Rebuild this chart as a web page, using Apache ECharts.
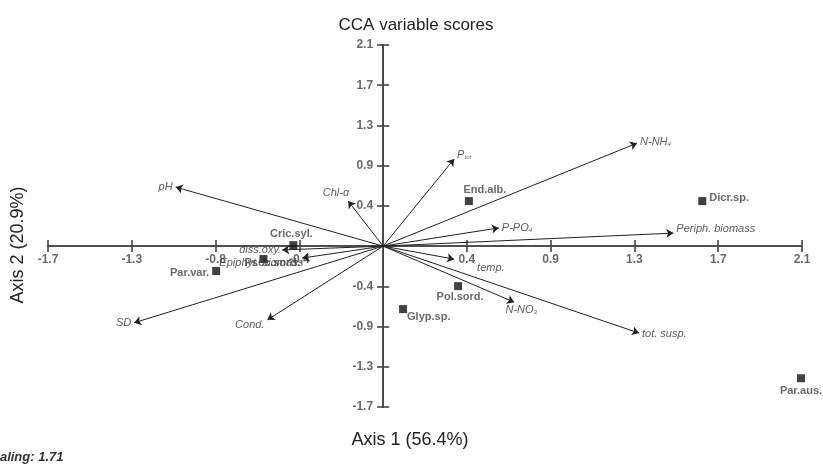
<!DOCTYPE html>
<html>
<head>
<meta charset="utf-8">
<script src="https://cdn.jsdelivr.net/npm/echarts@6/dist/echarts.min.js"></script>
<style>
html,body{margin:0;padding:0;background:#fff;}
#chart{width:823px;height:469px;}
</style>
</head>
<body>
<div id="chart"></div>
<script>
// ---- data ----
var axisMin = -1.68, axisMax = 2.1, axisStep = 0.42;
var xTickLabels = ['-1.7','-1.3','-0.8','-0.4','','0.4','0.9','1.3','1.7','2.1'];
var yTickLabels = ['-1.7','-1.3','-0.9','-0.4','','0.4','0.9','1.3','1.7','2.1'];

var envNames  = ['pH','Chl-α','Ptot','N-NH4','P-PO4','Periph. biomass','temp.','N-NO3','tot. susp.','Cond.','SD','diss.oxy.','Epiphyt. biomass'];
var envLabels = ['pH','Chl-α','P{sub|tot}','N-NH{sub|4}','P-PO{sub|4}','Periph. biomass','temp.','N-NO{sub|3}','tot. susp.','Cond.','SD','diss.oxy.','Epiphyt. biomass'];
var envX = [-1.04, -0.175, 0.356, 1.273, 0.58, 1.455, 0.356, 0.657, 1.283, -0.58, -1.248, -0.506, -0.406];
var envY = [0.616, 0.47, 0.91, 1.075, 0.19, 0.136, -0.136, -0.585, -0.908, -0.77, -0.80, -0.04, -0.125];

var spNames = ['Cric.syl.','Psec.sord.','Par.var.','End.alb.','Dicr.sp.','Pol.sord.','Glyp.sp.','Par.aus.'];
var spX = [-0.45, -0.6, -0.837, 0.43, 1.6, 0.376, 0.1, 2.095];
var spY = [0.01, -0.135, -0.26, 0.47, 0.47, -0.418, -0.658, -1.38];

// ---- label placement (style) ----
var envLabelPos = {
  'pH': {position:'left', offset:[0,0]},
  'Chl-α': {position:'left', offset:[4,-8]},
  'Ptot': {position:'right', offset:[0,-4]},
  'N-NH4': {position:'right', offset:[0,-1]},
  'P-PO4': {position:'right', offset:[0,0]},
  'Periph. biomass': {position:'right', offset:[0,-4]},
  'temp.': {position:'right', offset:[20,9]},
  'N-NO3': {position:'bottom', offset:[7,-1]},
  'tot. susp.': {position:'right', offset:[0,1]},
  'Cond.': {position:'left', offset:[0,5]},
  'SD': {position:'left', offset:[0,0]},
  'diss.oxy.': {position:'left', offset:[2,0]},
  'Epiphyt. biomass': {position:'left', offset:[4,5]}
};
var spLabelPos = {
  'Cric.syl.': {position:'top', offset:[-2,1]},
  'Psec.sord.': {position:'right', offset:[-26,4]},
  'Par.var.': {position:'left', offset:[0,2]},
  'End.alb.': {position:'top', offset:[16,1]},
  'Dicr.sp.': {position:'right', offset:[0,-3]},
  'Pol.sord.': {position:'bottom', offset:[2,-2]},
  'Glyp.sp.': {position:'right', offset:[-3,8]},
  'Par.aus.': {position:'bottom', offset:[0,0]}
};

var arrowData = envNames.map(function(n,i){
  return {coords:[[0,0],[envX[i],envY[i]]]};
});
var envPoints = envNames.map(function(n,i){
  var p = envLabelPos[n];
  return {value:[envX[i],envY[i]], label:{position:p.position, offset:p.offset, formatter:envLabels[i]}};
});
var spPoints = spNames.map(function(n,i){
  var p = spLabelPos[n];
  return {value:[spX[i],spY[i]], name:n, label:{position:p.position, offset:p.offset}};
});
var xTickPoints = [], yTickPoints = [];
xTickLabels.forEach(function(t,i){
  if (t) xTickPoints.push({value:[+(axisMin + i*axisStep).toFixed(2), 0], name:t});
});
yTickLabels.forEach(function(t,i){
  if (t) yTickPoints.push({value:[0, +(axisMin + i*axisStep).toFixed(2)], name:t});
});

var FONT = '"Liberation Sans", Arial, sans-serif';
var axisLineStyle = {color:'#444', width:1.6};

function makeX(isMain){
  return {
    type:'value', min:axisMin, max:axisMax, interval:axisStep,
    position:'bottom',
    axisLine:{show:true, onZero:true, lineStyle:axisLineStyle},
    axisTick:{show:true, inside:!isMain, length:6, lineStyle:axisLineStyle},
    axisLabel:{show:false},
    splitLine:{show:false}
  };
}
function makeY(isMain){
  return {
    type:'value', min:axisMin, max:axisMax, interval:axisStep,
    position:'left',
    axisLine:{show:true, onZero:true, lineStyle:axisLineStyle},
    axisTick:{show:true, inside:!isMain, length:6, lineStyle:axisLineStyle},
    axisLabel:{show:false},
    splitLine:{show:false}
  };
}

var tickLabelStyle = {show:true, formatter:'{b}', fontSize:12, fontWeight:'bold', color:'#444', fontFamily:FONT};

var chart = echarts.init(document.getElementById('chart'), null, {renderer:'canvas'});
chart.setOption({
  animation:false,
  backgroundColor:'#fff',
  title:{text:'CCA variable scores', left:411, top:12, textAlign:'center',
    textStyle:{fontSize:17, fontWeight:'normal', color:'#222', fontFamily:FONT}},
  grid:{left:48, right:21, top:45, bottom:62, containLabel:false},
  xAxis:[makeX(true), makeX(false)],
  yAxis:[makeY(true), makeY(false)],
  graphic:[
    {type:'text', x:410, y:440, style:{text:'Axis 1 (56.4%)', fontSize:18, fill:'#222', fontFamily:FONT, align:'center', verticalAlign:'middle'}},
    {type:'text', x:18, y:245, rotation:Math.PI/2, style:{text:'Axis 2 (20.9%)', fontSize:18, fill:'#222', fontFamily:FONT, align:'center', verticalAlign:'middle'}},
    {type:'text', x:-16, y:457, style:{text:'Scaling: 1.71', fontSize:13, fontStyle:'italic', fontWeight:'bold', fill:'#333', fontFamily:FONT, align:'left', verticalAlign:'middle'}}
  ],
  series:[
    {
      type:'scatter', xAxisIndex:0, yAxisIndex:0, symbolSize:0, data:xTickPoints, z:2, silent:true,
      label:Object.assign({}, tickLabelStyle, {position:'bottom', distance:8})
    },
    {
      type:'scatter', xAxisIndex:0, yAxisIndex:0, symbolSize:0, data:yTickPoints, z:2, silent:true,
      label:Object.assign({}, tickLabelStyle, {position:'left', distance:10})
    },
    {
      type:'lines', coordinateSystem:'cartesian2d', xAxisIndex:0, yAxisIndex:0,
      data:arrowData, symbol:['none','arrow'], symbolSize:[0,7],
      lineStyle:{color:'#222', width:1, opacity:1}, silent:true, z:3
    },
    {
      type:'scatter', xAxisIndex:0, yAxisIndex:0, symbolSize:0, data:envPoints, z:4,
      label:{show:true, fontSize:11, fontStyle:'italic', color:'#333', fontFamily:FONT, distance:3,
        rich:{sub:{fontSize:6, fontStyle:'italic', color:'#333', fontFamily:FONT, verticalAlign:'bottom', padding:[5,0,0,0]}}}
    },
    {
      type:'scatter', xAxisIndex:0, yAxisIndex:0, symbol:'rect', symbolSize:8, data:spPoints, z:5,
      itemStyle:{color:'#111'},
      label:{show:true, formatter:'{b}', fontSize:11, fontWeight:'bold', color:'#444', fontFamily:FONT, distance:3}
    }
  ]
});
</script>
</body>
</html>
